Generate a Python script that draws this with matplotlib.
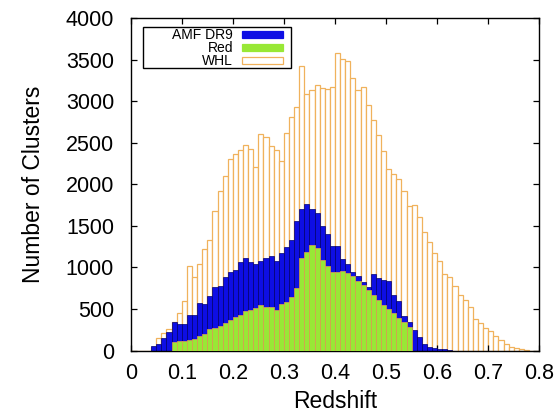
import numpy as np
import matplotlib.pyplot as plt
from matplotlib.patches import Rectangle

plt.rcParams['font.family'] = ['Liberation Sans', 'DejaVu Sans']

# redshift bins of width 0.01 from 0.00 to 0.80 (left edges)
bin_width = 0.01
z_left = np.round(np.arange(0, 80) * bin_width, 2)

# cluster counts per bin
whl = [0, 0, 0, 0, 40, 155, 215, 265, 340, 450,
       600, 1020, 890, 1045, 1220, 1335, 1680, 1920, 2095, 2300,
       2360, 2410, 2470, 2425, 2205, 2610, 2565, 2460, 2415, 2275,
       2620, 2805, 2935, 3420, 3090, 3130, 3195, 3155, 3147, 3175,
       3576, 3510, 3488, 3280, 3130, 3167, 2952, 2770, 2590, 2397,
       2182, 2125, 2060, 1922, 1735, 1755, 1603, 1431, 1310, 1178,
       1082, 918, 890, 775, 669, 603, 529, 380, 336, 276,
       240, 176, 128, 76, 44, 27, 19, 10, 0, 0]

amf_dr9 = [0, 0, 0, 0, 50, 75, 155, 222, 340, 318,
           325, 428, 425, 567, 562, 660, 770, 778, 890, 950,
           975, 1066, 1116, 1062, 1036, 1080, 1120, 1135, 1075, 1170,
           1245, 1330, 1560, 1705, 1760, 1705, 1660, 1500, 1400, 1258,
           1258, 1100, 1040, 950, 900, 830, 760, 920, 870, 850,
           840, 670, 600, 420, 350, 250, 160, 78, 48, 27,
           19, 22, 10, 0, 0, 0, 0, 0, 0, 0,
           0, 0, 0, 0, 0, 0, 0, 0, 0, 0]

red = [0, 0, 0, 0, 0, 0, 0, 0, 100, 110,
       120, 130, 140, 180, 195, 260, 270, 300, 335, 370,
       400, 430, 480, 490, 515, 545, 530, 520, 490, 565,
       590, 650, 750, 1110, 1190, 1270, 1240, 1090, 1018, 950,
       950, 960, 930, 898, 842, 790, 730, 670, 609, 550,
       505, 450, 390, 345, 290, 0, 0, 0, 0, 0,
       0, 0, 0, 0, 0, 0, 0, 0, 0, 0,
       0, 0, 0, 0, 0, 0, 0, 0, 0, 0]

x_ticks = [0, 0.1, 0.2, 0.3, 0.4, 0.5, 0.6, 0.7, 0.8]
x_ticklabels = ['0', '0.1', '0.2', '0.3', '0.4', '0.5', '0.6', '0.7', '0.8']
y_ticks = [0, 500, 1000, 1500, 2000, 2500, 3000, 3500, 4000]

c_blue = '#0e0ee4'
c_green = '#98e836'
c_orange = '#f0b25c'

fig = plt.figure(figsize=(5.59, 4.18), dpi=100)
ax = fig.add_axes([0.2338, 0.1612, 0.731, 0.7955])

ax.bar(z_left, whl, width=bin_width, align='edge', facecolor='white',
       edgecolor=c_orange, linewidth=0.9, zorder=1)
ax.bar(z_left, amf_dr9, width=bin_width, align='edge', facecolor=c_blue,
       edgecolor='#000070', linewidth=0.5, zorder=2)
ax.bar(z_left, red, width=bin_width, align='edge', facecolor=c_green,
       edgecolor='#e0a050', linewidth=0.5, zorder=3)

ax.set_xlim(0, 0.8)
ax.set_ylim(0, 4000)
ax.set_xticks(x_ticks)
ax.set_xticklabels(x_ticklabels)
ax.set_yticks(y_ticks)
ax.tick_params(direction='in', length=4.5, width=0.9, top=True, right=True,
               labelsize=15.5, colors='black')
ax.tick_params(axis='x', pad=9)
ax.tick_params(axis='y', pad=12)
for s in ax.spines.values():
    s.set_linewidth(1.0)

ax.set_xlabel('Redshift', fontsize=16.5, labelpad=4)
ax.set_ylabel('Number of Clusters', fontsize=16.5, labelpad=15)

# key box in the upper left
ax.add_patch(Rectangle((0.030, 0.849), 0.362, 0.123, transform=ax.transAxes,
                       facecolor='white', edgecolor='black', linewidth=1.0,
                       zorder=5))
entries = [('AMF DR9', c_blue, c_blue), ('Red', c_green, c_green),
           ('WHL', 'white', c_orange)]
rows_y = [0.9506, 0.9112, 0.8718]
for (label, fc, ec), yy in zip(entries, rows_y):
    ax.text(0.2504, yy, label, transform=ax.transAxes, ha='right',
            va='center', fontsize=10, zorder=6)
    ax.add_patch(Rectangle((0.2717, yy - 0.0105), 0.1018, 0.021,
                           transform=ax.transAxes, facecolor=fc,
                           edgecolor=ec, linewidth=0.9, zorder=6))

fig.savefig('out.png', dpi=100)
